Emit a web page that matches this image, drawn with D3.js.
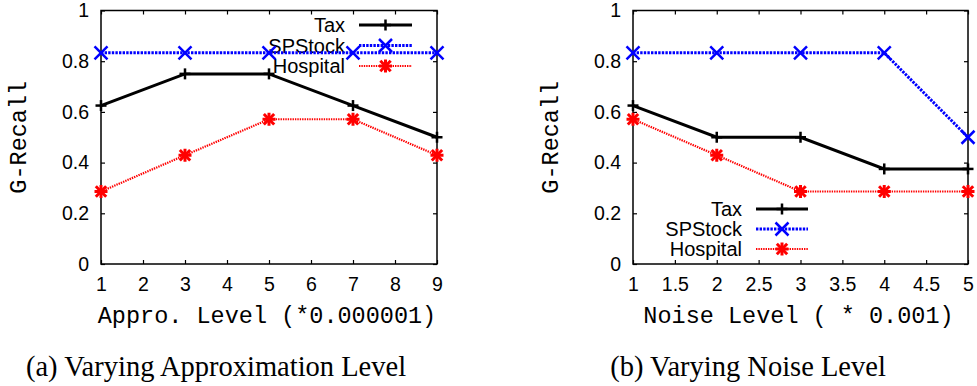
<!DOCTYPE html>
<html>
<head>
<meta charset="utf-8">
<script src="https://cdn.jsdelivr.net/npm/d3@7"></script>
<style>
  body { margin: 0; background: #fff; }
  .tick text { font-family: "Liberation Sans", Arial, sans-serif; font-size: 19.5px; fill: #000; }
  .axis-title { font-family: "Liberation Mono", "Courier New", monospace; font-size: 23.5px; fill: #000; }
  .caption { font-family: "Liberation Serif", "Times New Roman", serif; font-size: 28.5px; fill: #000; }
  .key text { font-family: "Liberation Sans", Arial, sans-serif; font-size: 20px; fill: #000; }
</style>
</head>
<body>
<svg id="fig" width="977" height="386"></svg>
<script>
// panel (a): approximation level
const approLevels = [1, 3, 5, 7, 9];
const taxA = [0.625, 0.75, 0.75, 0.625, 0.5];
const spstockA = [0.833, 0.833, 0.833, 0.833, 0.833];
const hospitalA = [0.286, 0.429, 0.571, 0.571, 0.429];

// panel (b): noise level
const noiseLevels = [1, 2, 3, 4, 5];
const taxB = [0.625, 0.5, 0.5, 0.375, 0.375];
const spstockB = [0.833, 0.833, 0.833, 0.833, 0.5];
const hospitalB = [0.571, 0.429, 0.286, 0.286, 0.286];

const seriesNames = ["Tax", "SPStock", "Hospital"];
const yTicks = [0, 0.2, 0.4, 0.6, 0.8, 1];
const xTicksA = [1, 2, 3, 4, 5, 6, 7, 8, 9];
const xTicksB = [1, 1.5, 2, 2.5, 3, 3.5, 4, 4.5, 5];

// gnuplot-ish line styles per series
const styles = {
  Tax:      { color: "#000", width: 3, dash: null, marker: "plus" },
  SPStock:  { color: "#0000ff", width: 3, dash: "2.4,1.2", marker: "cross" },
  Hospital: { color: "#ff0000", width: 2.2, dash: "1.4,1", marker: "star" }
};

const svg = d3.select("#fig");

function marker(g, type, x, y, color) {
  const h = type === "plus" ? 5.5 : 6.5;
  const segs = [];
  if (type === "plus" || type === "star") segs.push([-h, 0, h, 0], [0, -h, 0, h]);
  if (type === "cross" || type === "star") {
    const k = type === "star" ? h * 0.8 : h;
    segs.push([-k, -k, k, k], [-k, k, k, -k]);
  }
  segs.forEach(s => g.append("line")
    .attr("x1", x + s[0]).attr("y1", y + s[1])
    .attr("x2", x + s[2]).attr("y2", y + s[3])
    .attr("stroke", color).attr("stroke-width", type === "star" ? 3 : 2.5));
}

function panel(opts) {
  const { left, right, top, bottom, xs, series, xTicks, xTitle, caption, captionX, key } = opts;
  const x = d3.scaleLinear().domain([xTicks[0], xTicks[xTicks.length - 1]]).range([left, right]);
  const y = d3.scaleLinear().domain([0, 1]).range([bottom, top]);
  const g = svg.append("g");

  // ticks, mirrored on all four sides, pointing inward
  const fmt = d => String(d);
  g.append("g").attr("transform", `translate(0,${bottom})`)
    .call(d3.axisBottom(x).tickValues(xTicks).tickFormat(fmt).tickSizeInner(-4).tickSizeOuter(0).tickPadding(13));
  g.append("g").attr("transform", `translate(0,${top})`)
    .call(d3.axisTop(x).tickValues(xTicks).tickFormat("").tickSizeInner(-4).tickSizeOuter(0));
  g.append("g").attr("transform", `translate(${left},0)`)
    .call(d3.axisLeft(y).tickValues(yTicks).tickFormat(fmt).tickSizeInner(-4).tickSizeOuter(0).tickPadding(12));
  g.append("g").attr("transform", `translate(${right},0)`)
    .call(d3.axisRight(y).tickValues(yTicks).tickFormat("").tickSizeInner(-4).tickSizeOuter(0));
  g.selectAll(".domain").remove();
  g.selectAll(".tick line").attr("stroke", "#000").attr("stroke-width", 1.2);

  g.append("rect")
    .attr("x", left).attr("y", top)
    .attr("width", right - left).attr("height", bottom - top)
    .attr("fill", "none").attr("stroke", "#000").attr("stroke-width", 1.5);

  const line = d3.line().x(d => x(d[0])).y(d => y(d[1]));
  const kg = g.append("g").attr("class", "key");

  seriesNames.forEach((name, i) => {
    const st = styles[name];
    const pts = xs.map((v, j) => [v, series[i][j]]);
    g.append("path").datum(pts)
      .attr("d", line)
      .attr("fill", "none")
      .attr("stroke", st.color)
      .attr("stroke-width", st.width)
      .attr("stroke-dasharray", st.dash);
    pts.forEach(p => marker(g, st.marker, x(p[0]), y(p[1]), st.color));

    // legend entry
    const ky = key.y + i * key.step;
    kg.append("text")
      .attr("x", key.textEnd).attr("y", ky).attr("dy", "0.36em")
      .attr("text-anchor", "end").text(name);
    kg.append("line")
      .attr("x1", key.x1).attr("x2", key.x2).attr("y1", ky).attr("y2", ky)
      .attr("stroke", st.color).attr("stroke-width", st.width)
      .attr("stroke-dasharray", st.dash);
    marker(kg, st.marker, (key.x1 + key.x2) / 2, ky, st.color);
  });

  g.append("text").attr("class", "axis-title")
    .attr("transform", `translate(${left - 83},${(top + bottom) / 2}) rotate(-90)`)
    .attr("text-anchor", "middle").attr("dy", "0.36em")
    .text("G-Recall");
  g.append("text").attr("class", "axis-title")
    .attr("x", (left + right) / 2 - 2).attr("y", 323)
    .attr("text-anchor", "middle").text(xTitle);
  g.append("text").attr("class", "caption")
    .attr("x", captionX).attr("y", 376)
    .attr("text-anchor", "middle").text(caption);
}

panel({
  left: 101, right: 437, top: 10.5, bottom: 264,
  xs: approLevels, series: [taxA, spstockA, hospitalA], xTicks: xTicksA,
  xTitle: "Appro. Level (*0.000001)",
  caption: "(a) Varying Approximation Level", captionX: 216,
  key: { textEnd: 345, x1: 359, x2: 412, y: 25, step: 20.5 }
});

panel({
  left: 633, right: 968, top: 10.5, bottom: 264,
  xs: noiseLevels, series: [taxB, spstockB, hospitalB], xTicks: xTicksB,
  xTitle: "Noise Level ( * 0.001)",
  caption: "(b) Varying Noise Level", captionX: 748,
  key: { textEnd: 742, x1: 756, x2: 808, y: 209, step: 20 }
});
</script>
</body>
</html>
